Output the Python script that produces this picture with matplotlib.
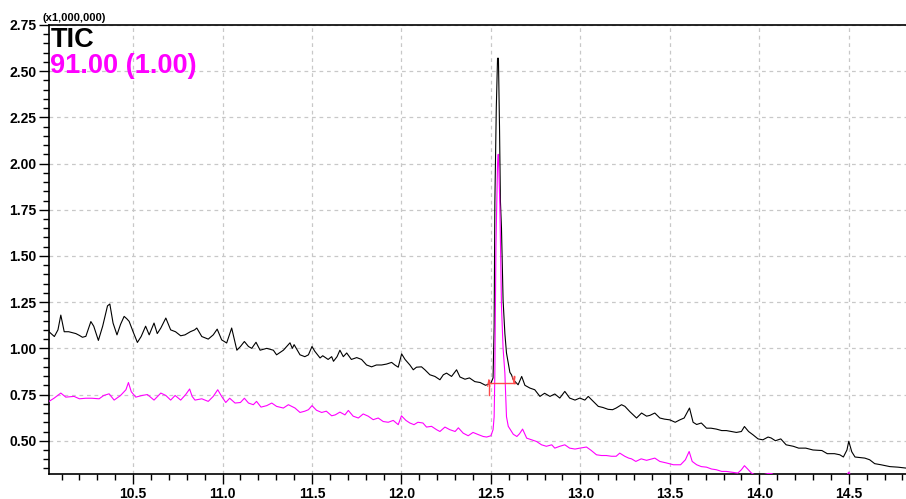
import matplotlib
matplotlib.use("Agg")
import matplotlib.pyplot as plt
from matplotlib.ticker import MultipleLocator, FormatStrFormatter

# --- DATA (retention time in min, intensity in x1,000,000) ---
tic_time = [
    10.03, 10.06, 10.08, 10.096, 10.115, 10.14, 10.16, 10.18, 10.2, 10.217,
    10.236, 10.264, 10.28, 10.306, 10.33, 10.357, 10.37, 10.388, 10.41, 10.43,
    10.45, 10.465, 10.478, 10.5, 10.524, 10.545, 10.57, 10.59, 10.617, 10.635,
    10.655, 10.683, 10.71, 10.737, 10.766, 10.79, 10.82, 10.844, 10.856, 10.884,
    10.92, 10.948, 10.97, 10.995, 11.023, 11.051, 11.08, 11.1, 11.122, 11.145,
    11.163, 11.187, 11.21, 11.247, 11.284, 11.302, 11.34, 11.377, 11.39, 11.4,
    11.433, 11.46, 11.48, 11.5, 11.515, 11.545, 11.56, 11.59, 11.61, 11.62,
    11.64, 11.656, 11.675, 11.694, 11.72, 11.75, 11.777, 11.805, 11.833, 11.86,
    11.889, 11.917, 11.945, 11.963, 11.982, 12.001, 12.02, 12.047, 12.066, 12.084,
    12.112, 12.131, 12.159, 12.187, 12.215, 12.234, 12.252, 12.28, 12.308, 12.327,
    12.355, 12.38, 12.41, 12.44, 12.47, 12.5, 12.512, 12.518, 12.522, 12.530,
    12.537, 12.542, 12.548, 12.553, 12.559, 12.568, 12.578, 12.587, 12.606, 12.615,
    12.625, 12.652, 12.672, 12.69, 12.718, 12.745, 12.774, 12.8, 12.83, 12.857,
    12.885, 12.913, 12.94, 12.97, 12.997, 13.025, 13.044, 13.07, 13.1, 13.126,
    13.155, 13.18, 13.2, 13.23, 13.249, 13.277, 13.314, 13.342, 13.37, 13.388,
    13.416, 13.444, 13.47, 13.5, 13.53, 13.556, 13.58, 13.61, 13.63, 13.65,
    13.676, 13.705, 13.73, 13.76, 13.79, 13.816, 13.845, 13.872, 13.9, 13.917,
    13.94, 13.965, 13.993, 14.02, 14.049, 14.066, 14.09, 14.12, 14.15, 14.19,
    14.22, 14.26, 14.3, 14.35, 14.38, 14.42, 14.45, 14.47, 14.49, 14.5,
    14.517, 14.535, 14.59, 14.617, 14.645, 14.68, 14.73, 14.775, 14.82,
]
tic_value = [
    1.09, 1.064, 1.10, 1.18, 1.09, 1.09, 1.085, 1.08, 1.07, 1.06,
    1.065, 1.145, 1.12, 1.043, 1.12, 1.23, 1.24, 1.137, 1.073, 1.13,
    1.173, 1.16, 1.146, 1.09, 1.032, 1.064, 1.12, 1.073, 1.137, 1.08,
    1.11, 1.164, 1.10, 1.09, 1.068, 1.073, 1.09, 1.10, 1.11, 1.064,
    1.05, 1.073, 1.104, 1.046, 1.029, 1.11, 0.99, 1.01, 1.037, 1.01,
    1.0, 1.033, 0.99, 1.0, 0.99, 0.965, 0.99, 1.03, 1.0, 1.02,
    0.965, 0.955, 0.965, 1.01, 0.985, 0.948, 0.96, 0.94, 0.955, 0.93,
    0.955, 0.99, 0.955, 0.975, 0.94, 0.95, 0.94, 0.91, 0.90, 0.91,
    0.91, 0.915, 0.924, 0.91, 0.898, 0.97, 0.94, 0.91, 0.884, 0.898,
    0.90, 0.884, 0.857, 0.848, 0.83, 0.857, 0.866, 0.848, 0.884, 0.845,
    0.833, 0.84, 0.82, 0.815, 0.80, 0.812, 0.84, 1.12, 1.79, 2.30,
    2.57, 2.57, 2.20, 1.80, 1.65, 1.26, 1.08, 0.975, 0.87, 0.857,
    0.83, 0.803, 0.848, 0.80, 0.785, 0.776, 0.74, 0.757, 0.74, 0.753,
    0.731, 0.767, 0.731, 0.72, 0.731, 0.72, 0.74, 0.715, 0.686, 0.68,
    0.67, 0.668, 0.677, 0.695, 0.686, 0.657, 0.623, 0.65, 0.633, 0.637,
    0.65, 0.623, 0.617, 0.613, 0.60, 0.613, 0.623, 0.677, 0.60, 0.588,
    0.596, 0.568, 0.568, 0.563, 0.555, 0.555, 0.55, 0.545, 0.55, 0.577,
    0.55, 0.532, 0.51, 0.505, 0.52, 0.515, 0.50, 0.51, 0.478, 0.47,
    0.46, 0.46, 0.45, 0.447, 0.43, 0.43, 0.424, 0.412, 0.45, 0.497,
    0.44, 0.412, 0.406, 0.397, 0.376, 0.37, 0.36, 0.357, 0.352,
]

mz91_time = [
    10.03, 10.058, 10.096, 10.124, 10.17, 10.2, 10.235, 10.27, 10.31, 10.336,
    10.366, 10.394, 10.43, 10.46, 10.474, 10.49, 10.515, 10.55, 10.58, 10.617,
    10.655, 10.683, 10.71, 10.735, 10.766, 10.794, 10.816, 10.83, 10.846, 10.884,
    10.92, 10.948, 10.973, 10.995, 11.018, 11.04, 11.07, 11.1, 11.122, 11.145,
    11.172, 11.19, 11.215, 11.247, 11.275, 11.302, 11.34, 11.368, 11.405, 11.433,
    11.46, 11.48, 11.5, 11.525, 11.554, 11.58, 11.61, 11.63, 11.656, 11.684,
    11.703, 11.73, 11.759, 11.786, 11.814, 11.842, 11.87, 11.898, 11.926, 11.954,
    11.982, 12.0, 12.025, 12.047, 12.07, 12.092, 12.12, 12.14, 12.168, 12.196,
    12.215, 12.243, 12.27, 12.3, 12.318, 12.345, 12.373, 12.4, 12.43, 12.457,
    12.476, 12.5, 12.512, 12.518, 12.522, 12.528, 12.537, 12.541, 12.545, 12.55,
    12.559, 12.568, 12.578, 12.587, 12.597, 12.625, 12.645, 12.66, 12.677, 12.7,
    12.727, 12.755, 12.783, 12.81, 12.84, 12.857, 12.885, 12.913, 12.94, 12.97,
    12.997, 13.034, 13.06, 13.09, 13.118, 13.145, 13.174, 13.2, 13.22, 13.248,
    13.27, 13.286, 13.31, 13.34, 13.37, 13.416, 13.444, 13.48, 13.52, 13.56,
    13.587, 13.608, 13.625, 13.65, 13.676, 13.705, 13.733, 13.76, 13.79, 13.816,
    13.845, 13.88, 13.9, 13.917, 13.935, 13.956, 13.975, 14.0, 14.05, 14.07,
    14.09, 14.2, 14.48, 14.5, 14.52, 14.82,
]
mz91_value = [
    0.713, 0.73, 0.758, 0.736, 0.74, 0.727, 0.73, 0.73, 0.727, 0.745,
    0.754, 0.72, 0.745, 0.776, 0.815, 0.765, 0.736, 0.745, 0.75, 0.72,
    0.758, 0.745, 0.72, 0.745, 0.72, 0.75, 0.78, 0.74, 0.72, 0.727,
    0.713, 0.74, 0.776, 0.74, 0.707, 0.73, 0.704, 0.707, 0.73, 0.704,
    0.695, 0.713, 0.682, 0.69, 0.704, 0.686, 0.677, 0.695, 0.677, 0.653,
    0.66, 0.668, 0.69, 0.665, 0.653, 0.66, 0.635, 0.64, 0.655, 0.64,
    0.664, 0.633, 0.623, 0.645, 0.633, 0.614, 0.623, 0.604, 0.60, 0.61,
    0.587, 0.635, 0.61, 0.596, 0.587, 0.60, 0.596, 0.574, 0.578, 0.56,
    0.55, 0.574, 0.56, 0.55, 0.57, 0.541, 0.527, 0.545, 0.533, 0.523,
    0.52, 0.527, 0.56, 0.63, 0.866, 1.55, 2.00, 2.05, 1.95, 1.77,
    1.227, 1.00, 0.866, 0.63, 0.578, 0.535, 0.523, 0.538, 0.563, 0.514,
    0.505, 0.496, 0.478, 0.47, 0.478, 0.46, 0.47, 0.478, 0.46, 0.455,
    0.46, 0.466, 0.448, 0.424, 0.42, 0.42, 0.416, 0.416, 0.433, 0.416,
    0.406, 0.402, 0.388, 0.402, 0.394, 0.406, 0.388, 0.38, 0.37, 0.37,
    0.397, 0.442, 0.388, 0.37, 0.36, 0.357, 0.347, 0.343, 0.334, 0.334,
    0.33, 0.325, 0.343, 0.365, 0.347, 0.325, 0.316, 0.31, 0.323, 0.322,
    0.31, 0.30, 0.30, 0.33, 0.30, 0.29,
]

# integration baseline of the main peak (start, end, level)
peak_start, peak_end, peak_level = 12.485, 12.634, 0.815

x_ticks = [10.5, 11.0, 11.5, 12.0, 12.5, 13.0, 13.5, 14.0, 14.5]
y_ticks = [0.50, 0.75, 1.00, 1.25, 1.50, 1.75, 2.00, 2.25, 2.50, 2.75]

plt.rcParams['font.family'] = ['Liberation Sans', 'DejaVu Sans']
plt.rcParams['font.weight'] = 'bold'

fig = plt.figure(figsize=(9.06, 4.99), dpi=100)
ax = fig.add_axes([49 / 906, 25 / 499, 857 / 906, 449 / 499])

ax.grid(True, which='major', color='#c8c8c8', linestyle=(0, (3, 3)), linewidth=0.9)
ax.set_axisbelow(True)

ax.plot(tic_time, tic_value, color='black', linewidth=0.8, zorder=3)
ax.plot(mz91_time, mz91_value, color='#ff00ff', linewidth=0.8, zorder=4)

# red baseline marker
red = '#ff4a4a'
ax.plot([peak_start, peak_end], [peak_level, peak_level], color=red, lw=1.0, zorder=5)
ax.plot([peak_start + 0.003, peak_start + 0.003], [peak_level - 0.065, peak_level + 0.015],
        color=red, lw=1.0, zorder=5)
ax.plot([peak_start - 0.003, peak_start + 0.003, peak_start + 0.009],
        [peak_level - 0.02, peak_level + 0.015, peak_level - 0.02], color=red, lw=0.8, zorder=5)
ax.plot([peak_end - 0.006, peak_end - 0.006], [peak_level, peak_level + 0.035],
        color=red, lw=1.0, zorder=5)
ax.plot([peak_end - 0.012, peak_end - 0.006, peak_end],
        [peak_level + 0.03, peak_level, peak_level + 0.03], color=red, lw=0.8, zorder=5)

ax.set_xlim(10.03, 14.82)
ax.set_ylim(0.32, 2.75)

ax.xaxis.set_major_locator(MultipleLocator(0.5))
ax.xaxis.set_minor_locator(MultipleLocator(0.1))
ax.yaxis.set_major_locator(MultipleLocator(0.25))
ax.yaxis.set_minor_locator(MultipleLocator(0.05))
ax.set_xticks(x_ticks)
ax.set_yticks(y_ticks)
ax.xaxis.set_major_formatter(FormatStrFormatter('%.1f'))
ax.yaxis.set_major_formatter(FormatStrFormatter('%.2f'))

ax.tick_params(axis='both', which='major', direction='out', length=7, width=1,
               labelsize=10, pad=2)
ax.tick_params(axis='both', which='minor', direction='out', length=4, width=1)
for lbl in ax.get_xticklabels() + ax.get_yticklabels():
    lbl.set_fontweight('bold')

ax.spines['right'].set_visible(False)
for s in ['left', 'bottom', 'top']:
    ax.spines[s].set_linewidth(1.2)
    ax.spines[s].set_color('black')

ax.text(-0.008, 1.004, '(x1,000,000)', transform=ax.transAxes, fontsize=8,
        fontweight='bold', ha='left', va='bottom')
ax.text(0.002, 0.996, 'TIC', transform=ax.transAxes, fontsize=19.5,
        fontweight='bold', color='black', ha='left', va='top')
ax.text(0.001, 0.937, '91.00 (1.00)', transform=ax.transAxes, fontsize=19.5,
        fontweight='bold', color='#ff00ff', ha='left', va='top')

fig.savefig('out.png', dpi=100)
